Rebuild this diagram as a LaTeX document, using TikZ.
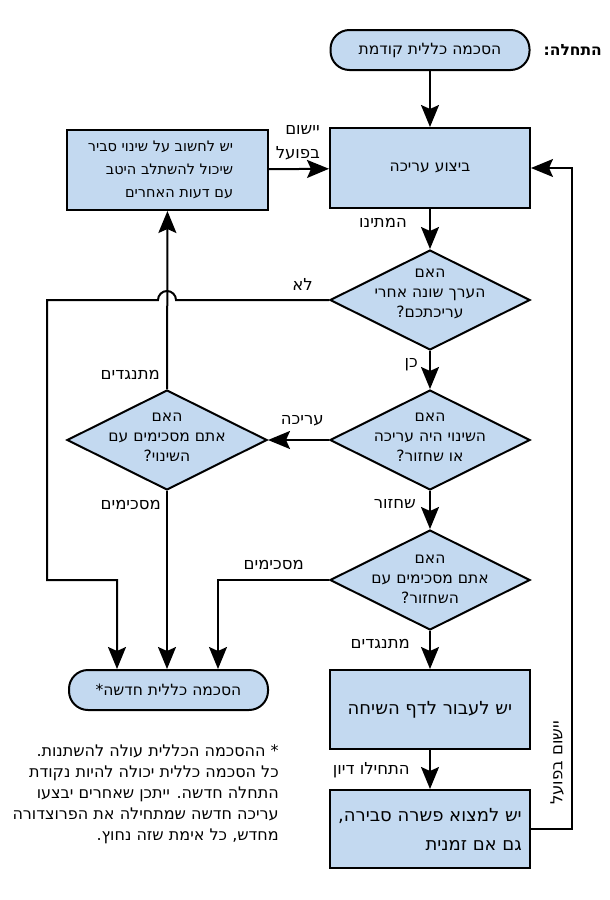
\documentclass[tikz,border=0pt]{standalone}
\usepackage{fontspec}
\setmainfont[Script=Hebrew]{DejaVu Sans}
\TeXXeTstate=1
\usetikzlibrary{shapes.geometric,arrows.meta}
\definecolor{boxblue}{HTML}{C3D9F0}
\begin{document}
\begin{tikzpicture}[x=1pt,y=-1pt,
  every node/.style={text=black},
  shapebase/.style={draw, line width=2pt, fill=boxblue, inner sep=0pt},
  procbox/.style={shapebase, rectangle, minimum width=200pt, minimum height=80pt},
  termbox/.style={shapebase, rectangle, rounded corners=19pt, minimum width=199pt, minimum height=40pt},
  decbox/.style={shapebase, diamond, minimum width=200pt, minimum height=100pt},
  txt/.style={font=\fontsize{15.5pt}{20pt}\selectfont, inner sep=0pt},
  lbltxt/.style={font=\fontsize{16.5pt}{20pt}\selectfont, inner sep=0pt},
  bigtxt/.style={font=\fontsize{18pt}{29pt}\selectfont, inner sep=0pt},
  edgelbl/.style={lbltxt, anchor=east},
  conn/.style={line width=2pt, -{Stealth[length=22pt,width=18pt,inset=4pt]}}
]
\useasboundingbox (0,0) rectangle (610,900);

% nodes
\node[termbox, txt] (start) at (430,50) {\beginR הסכמה כללית קודמת\endR};
\node[txt, font=\fontsize{15.5pt}{18pt}\selectfont\bfseries, anchor=east] (startlbl) at (602,50) {\beginR התחלה:\endR};
\node[procbox, txt] (edit) at (430,168) {\beginR ביצוע עריכה\endR};
\node[procbox, minimum width=201pt,
  label={[txt, align=right, xshift=-7pt, font=\fontsize{14.5pt}{23pt}\selectfont]center:{\beginR יש לחשוב על שינוי סביר\endR\\\beginR שיכול להשתלב היטב\endR\\\beginR עם דעות האחרים\endR}}] (think) at (167.5,170) {};
\node[decbox, label={[txt, align=center, yshift=6pt]center:{\beginR האם\endR\\\beginR הערך שונה אחרי\endR\\\beginR עריכתכם?\endR}}] (d1) at (430,300) {};
\node[decbox, label={[txt, align=center, yshift=3pt]center:{\beginR האם\endR\\\beginR השינוי היה עריכה\endR\\\beginR או שחזור?\endR}}] (d2) at (430,440) {};
\node[decbox, label={[txt, align=center, yshift=3pt]center:{\beginR האם\endR\\\beginR אתם מסכימים עם\endR\\\beginR השינוי?\endR}}] (d3) at (167,440) {};
\node[decbox, label={[txt, align=center, yshift=1pt]center:{\beginR האם\endR\\\beginR אתם מסכימים עם\endR\\\beginR השחזור?\endR}}] (d4) at (430,580) {};
\node[procbox, bigtxt, minimum height=79pt] (talk) at (430,709.5) {\beginR יש לעבור לדף השיחה\endR};
\node[procbox, bigtxt, align=right, minimum height=78pt] (comp) at (430,829) {\beginR יש למצוא פשרה סבירה,\endR\\\beginR גם אם זמנית\endR};
\node[termbox, txt] (end) at (168.5,690) {\beginR הסכמה כללית חדשה*\endR};

\node[txt, font=\fontsize{16pt}{21.2pt}\selectfont, align=right, anchor=north east] (note) at (279,744)
  {\beginR * ההסכמה הכללית עולה להשתנות.\endR\\\beginR כל הסכמה כללית יכולה להיות נקודת\endR\\\beginR התחלה חדשה. ייתכן שאחרים יבצעו\endR\\\beginR עריכה חדשה שמתחילה את הפרוצדורה\endR\\\beginR מחדש, כל אימת שזה נחוץ.\endR};

% helper coordinates
\coordinate (nx) at (47,0);
\coordinate (c1) at (117,0);
\coordinate (c3) at (218,0);
\coordinate (rx) at (572,0);

% connectors
\draw[conn] (start) -- (edit);
\draw[conn] (edit) -- (d1);
\draw[conn] (d1) -- (d2);
\draw[conn] (d2) -- (d4);
\draw[conn] (d4) -- (talk);
\draw[conn] (talk) -- (comp);
\draw[conn] (d2) -- (d3);
\draw[conn] (d3) -- (think);
\draw[conn] (think) -- (edit);
\draw[conn] (d3.south) -- (d3.south |- end.north);
\draw[conn] (d1.west) -- ([xshift=9pt]d1.west -| d3.north) arc[start angle=0, end angle=180, radius=9pt]
  -- (d1.west -| nx) -- (d4.west -| nx) -- (d4.west -| c1) -- (end.north -| c1);
\draw[conn] (d4.west) -- (d4.west -| c3) -- (end.north -| c3);
\draw[conn, line width=1.6pt] (comp.east) -- (comp.east -| rx) -- (edit.east -| rx) -- (edit.east);

% edge labels
\node[edgelbl] (lyis) at (320,130) {\beginR יישום\endR};
\node[edgelbl] (lbpo) at (320,153) {\beginR בפועל\endR};
\node[edgelbl] (lwait) at (407,223) {\beginR המתינו\endR};
\node[edgelbl] (lno) at (313,284) {\beginR לא\endR};
\node[edgelbl] (lyes) at (418,365) {\beginR כן\endR};
\node[edgelbl] (ledit) at (324,421) {\beginR עריכה\endR};
\node[edgelbl] (lopp1) at (160,375) {\beginR מתנגדים\endR};
\node[edgelbl] (lagr1) at (161,505) {\beginR מסכימים\endR};
\node[edgelbl] (lrev) at (416,504) {\beginR שחזור\endR};
\node[edgelbl] (lagr2) at (304,565) {\beginR מסכימים\endR};
\node[edgelbl] (lopp2) at (410,644) {\beginR מתנגדים\endR};
\node[edgelbl] (ldisc) at (410,770) {\beginR התחילו דיון\endR};
\node[lbltxt, rotate=90] (limpl) at (557,763) {\beginR יישום בפועל\endR};
\end{tikzpicture}
\end{document}
